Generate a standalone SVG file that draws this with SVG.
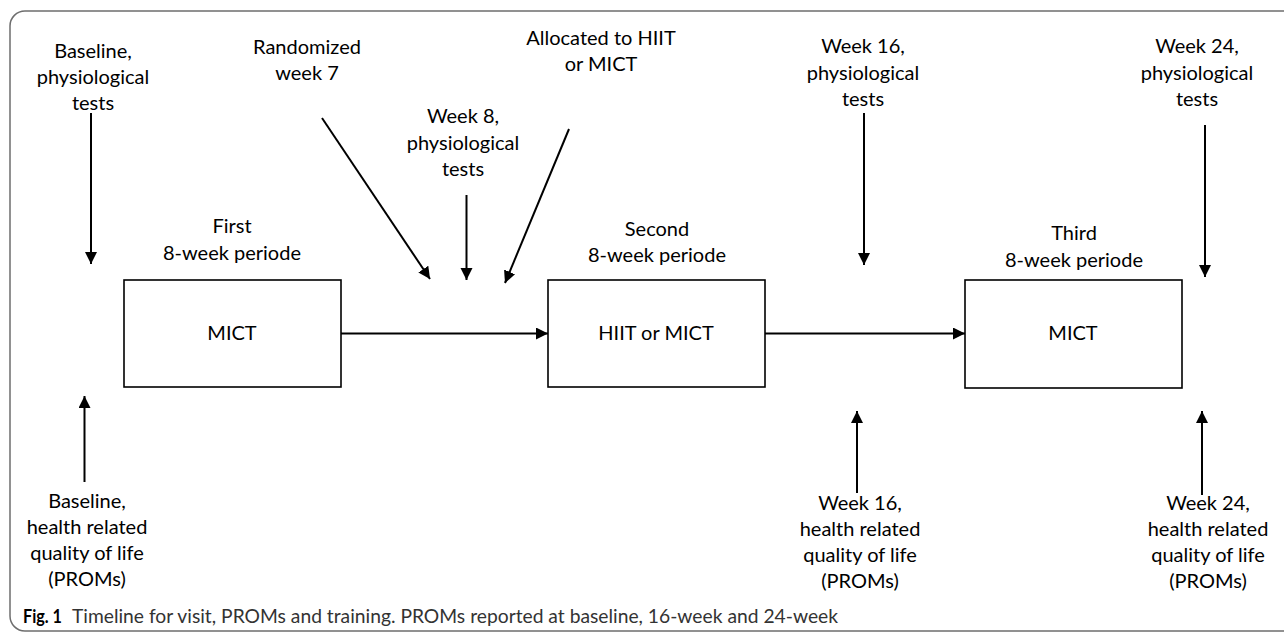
<svg xmlns="http://www.w3.org/2000/svg" width="1284" height="632" viewBox="0 0 1284 632">
<style>
.t{font-family:Lato,"Liberation Sans",sans-serif;font-size:20px;fill:#000;text-anchor:middle}
.box{fill:#fff;stroke:#000;stroke-width:1.6}
.ln{stroke:#000;stroke-width:2;fill:none}
.cap{font-family:Lato,"Liberation Sans",sans-serif;font-size:19px;fill:#333}
</style>
<defs>
<marker id="ah" markerUnits="userSpaceOnUse" markerWidth="13" markerHeight="13" refX="12" refY="6" orient="auto">
<path d="M0,0 L12,6 L0,12 z" fill="#000"/>
</marker>
</defs>
<rect x="10" y="11" width="1300" height="620" rx="15" fill="#fff" stroke="#6e6e6e" stroke-width="1.5"/>
<g id="labels-top">
<text class="t" x="93" y="58">Baseline,<tspan x="93" y="84">physiological</tspan><tspan x="93" y="110">tests</tspan></text>
<text class="t" x="307" y="54">Randomized<tspan x="307" y="80">week 7</tspan></text>
<text class="t" x="601" y="45">Allocated to HIIT<tspan x="601" y="71">or MICT</tspan></text>
<text class="t" x="463" y="123">Week 8,<tspan x="463" y="150">physiological</tspan><tspan x="463" y="176">tests</tspan></text>
<text class="t" x="863" y="53">Week 16,<tspan x="863" y="80">physiological</tspan><tspan x="863" y="106">tests</tspan></text>
<text class="t" x="1197" y="53">Week 24,<tspan x="1197" y="80">physiological</tspan><tspan x="1197" y="106">tests</tspan></text>
</g>
<g id="period1">
<text class="t" x="232" y="233">First<tspan x="232" y="260">8-week periode</tspan></text>
<rect class="box" x="124" y="280" width="217" height="107"/>
<text class="t" x="232" y="340">MICT</text>
</g>
<g id="period2">
<text class="t" x="657" y="236">Second<tspan x="657" y="262">8-week periode</tspan></text>
<rect class="box" x="548" y="280" width="217" height="107"/>
<text class="t" x="656" y="340">HIIT or MICT</text>
</g>
<g id="period3">
<text class="t" x="1074" y="240">Third<tspan x="1074" y="267">8-week periode</tspan></text>
<rect class="box" x="965" y="280" width="217" height="108"/>
<text class="t" x="1073" y="340">MICT</text>
</g>
<g id="labels-bottom">
<text class="t" x="87" y="508">Baseline,<tspan x="87" y="534">health related</tspan><tspan x="87" y="560">quality of life</tspan><tspan x="87" y="586">(PROMs)</tspan></text>
<text class="t" x="860" y="510">Week 16,<tspan x="860" y="536">health related</tspan><tspan x="860" y="562">quality of life</tspan><tspan x="860" y="588">(PROMs)</tspan></text>
<text class="t" x="1208" y="510">Week 24,<tspan x="1208" y="536">health related</tspan><tspan x="1208" y="562">quality of life</tspan><tspan x="1208" y="588">(PROMs)</tspan></text>
</g>
<g id="connectors">
<line class="ln" x1="91" y1="113" x2="91" y2="264" marker-end="url(#ah)"/>
<line class="ln" x1="322" y1="118" x2="430" y2="279" marker-end="url(#ah)"/>
<line class="ln" x1="466.5" y1="195" x2="466.5" y2="280" marker-end="url(#ah)"/>
<line class="ln" x1="569" y1="129" x2="505" y2="283" marker-end="url(#ah)"/>
<line class="ln" x1="864" y1="113" x2="864" y2="265" marker-end="url(#ah)"/>
<line class="ln" x1="1205" y1="125" x2="1205" y2="277" marker-end="url(#ah)"/>
<line class="ln" x1="341" y1="333.5" x2="548" y2="333.5" marker-end="url(#ah)"/>
<line class="ln" x1="765" y1="333.5" x2="965" y2="333.5" marker-end="url(#ah)"/>
<line class="ln" x1="84.5" y1="482" x2="84.5" y2="396" marker-end="url(#ah)"/>
<line class="ln" x1="857" y1="493" x2="857" y2="411" marker-end="url(#ah)"/>
<line class="ln" x1="1202" y1="495" x2="1202" y2="411" marker-end="url(#ah)"/>
</g>
<g id="caption">
<text class="cap" x="23" y="623" textLength="39" lengthAdjust="spacingAndGlyphs" style="font-weight:bold;fill:#000">Fig. 1</text>
<text class="cap" x="72" y="623" textLength="766" lengthAdjust="spacingAndGlyphs">Timeline for visit, PROMs and training. PROMs reported at baseline, 16-week and 24-week</text>
</g>
</svg>
